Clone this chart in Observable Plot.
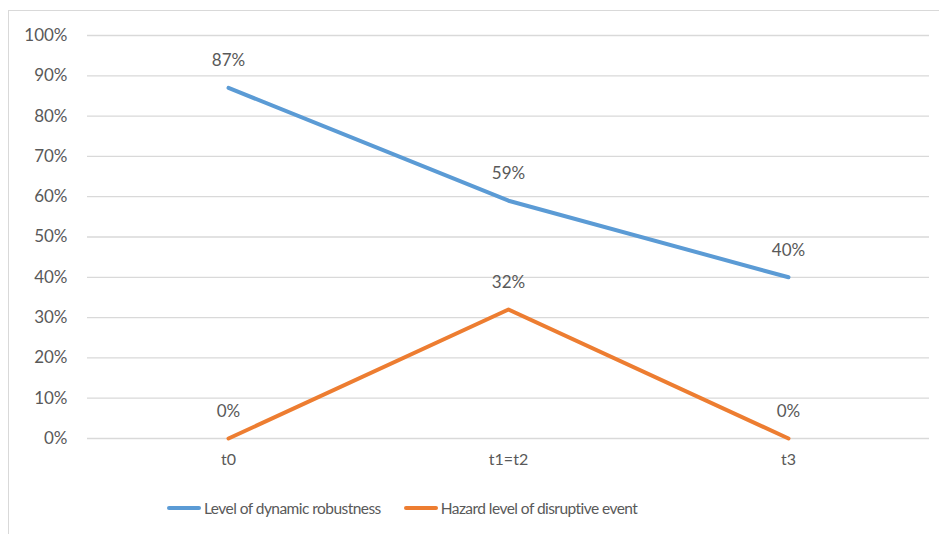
<!DOCTYPE html>
<html>
<head>
<meta charset="utf-8">
<script src="https://cdn.jsdelivr.net/npm/d3@7"></script>
<script src="https://cdn.jsdelivr.net/npm/@observablehq/plot@0.6"></script>
<style>
  html, body { margin: 0; padding: 0; background: #fff; }
  #wrap { position: relative; width: 939px; height: 534px; overflow: hidden; font-family: Lato, sans-serif; }
  #frame { position: absolute; left: 8px; top: 10px; width: 1000px; height: 600px; border-left: 1px solid #D9D9D9; border-top: 1px solid #D9D9D9; }
  #chart { position: absolute; left: 0; top: 0; }
  #legend { position: absolute; top: 496px; left: 167px; height: 24px; font-size: 15.5px; letter-spacing: -0.55px; color: #595959; display: flex; gap: 23px; align-items: center; }
  .item { display: flex; align-items: center; white-space: nowrap; }
  .swatch { width: 34px; height: 4px; border-radius: 2px; margin-right: 3px; }
</style>
</head>
<body>
<div id="wrap">
  <div id="frame"></div>
  <div id="chart"></div>
  <div id="legend"></div>
</div>
<script>
const categories = ["t0", "t1=t2", "t3"];
const seriesNames = ["Level of dynamic robustness", "Hazard level of disruptive event"];
const robustness = [0.87, 0.59, 0.40];
const hazard = [0.00, 0.32, 0.00];
const colors = ["#5B9BD5", "#ED7D31"];
const yTicks = [0, 0.1, 0.2, 0.3, 0.4, 0.5, 0.6, 0.7, 0.8, 0.9, 1.0];

const data = [];
categories.forEach((c, i) => {
  data.push({cat: c, value: robustness[i], series: seriesNames[0]});
  data.push({cat: c, value: hazard[i], series: seriesNames[1]});
});

const textColor = "#595959";
const chart = Plot.plot({
  width: 939,
  height: 480,
  marginLeft: 87,
  marginRight: 10,
  marginTop: 35,
  marginBottom: 42,
  style: { fontFamily: "Lato, sans-serif", fontSize: "17px", color: textColor, background: "transparent" },
  x: { type: "point", domain: categories, padding: 0.5, label: null },
  y: { domain: [0, 1], label: null },
  color: { domain: seriesNames, range: colors },
  marks: [
    Plot.gridY(yTicks, { stroke: "#D9D9D9", strokeOpacity: 1, strokeWidth: 1.3 }),
    Plot.axisY(yTicks, { tickSize: 0, tickPadding: 20, tickFormat: d => Math.round(d * 100) + "%", fill: textColor, fontSize: 17, label: null }),
    Plot.axisX({ tickSize: 0, tickPadding: 15, fill: textColor, fontSize: 16, label: null }),
    Plot.line(data, { x: "cat", y: "value", z: "series", stroke: "series", strokeWidth: 4, strokeLinejoin: "round", strokeLinecap: "round" }),
    Plot.text(data, { x: "cat", y: "value", text: d => Math.round(d.value * 100) + "%", dy: -27, fill: textColor, fontSize: 17 })
  ]
});
document.getElementById("chart").appendChild(chart);

const legend = document.getElementById("legend");
seriesNames.forEach((name, i) => {
  const item = document.createElement("div");
  item.className = "item";
  const sw = document.createElement("div");
  sw.className = "swatch";
  sw.style.background = colors[i];
  const label = document.createElement("span");
  label.textContent = name;
  item.appendChild(sw);
  item.appendChild(label);
  legend.appendChild(item);
});
</script>
</body>
</html>
